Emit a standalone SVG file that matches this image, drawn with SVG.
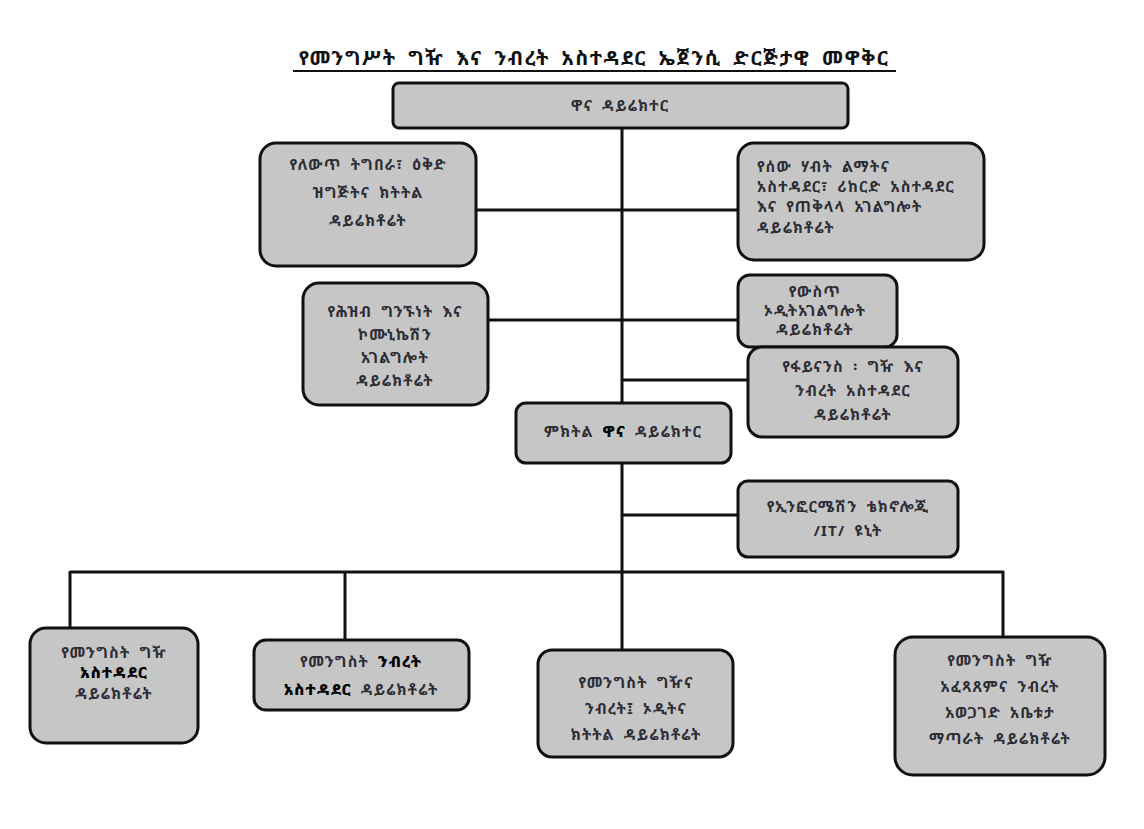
<svg xmlns="http://www.w3.org/2000/svg" width="1144" height="829" viewBox="0 0 1144 829">
<style>
.box{fill:#c6c6c6;stroke:#111;stroke-width:3}
.ln{stroke:#111;stroke-width:3;fill:none}
text{font-family:"Noto Sans Ethiopic","Abyssinica SIL","FreeSerif","DejaVu Sans","Noto Sans",sans-serif;font-size:15px;font-weight:bold;fill:#2c2c34;letter-spacing:1.2px;word-spacing:4px}
.c{text-anchor:middle}
.b{fill:#000;font-weight:900}
.t{font-size:20px;fill:#111;text-anchor:middle;letter-spacing:1.5px;word-spacing:5px}
</style>
<rect width="1144" height="829" fill="#fff"/>
<g id="title">
<text class="t" x="594" y="65">የመንግሥት ግዥ እና ንብረት አስተዳደር ኤጀንሲ ድርጅታዊ መዋቅር</text>
<line x1="293" y1="71" x2="896" y2="71" stroke="#111" stroke-width="2"/>
</g>
<g id="connectors">
<line class="ln" x1="622" y1="128" x2="622" y2="403"/>
<line class="ln" x1="476" y1="210" x2="740" y2="210"/>
<line class="ln" x1="488" y1="320" x2="740" y2="320"/>
<line class="ln" x1="622" y1="380" x2="750" y2="380"/>
<line class="ln" x1="622" y1="463" x2="622" y2="572"/>
<line class="ln" x1="622" y1="515" x2="740" y2="515"/>
<line class="ln" x1="70" y1="572" x2="1004" y2="572"/>
<line class="ln" x1="70" y1="571" x2="70" y2="628"/>
<line class="ln" x1="345" y1="571" x2="345" y2="640"/>
<line class="ln" x1="622" y1="571" x2="622" y2="650"/>
<line class="ln" x1="1003" y1="571" x2="1003" y2="637"/>
</g>
<g id="n-director">
<rect class="box" x="393" y="83" width="455" height="45" rx="6"/>
<text class="c" x="620" y="111">ዋና ዳይሬክተር</text>
</g>
<g id="n-change">
<rect class="box" x="260" y="143" width="216" height="123" rx="16"/>
<text class="c" x="368" y="170">የለውጥ ትግበራ፣ ዕቅድ</text>
<text class="c" x="368" y="198">ዝግጅትና ክትትል</text>
<text class="c" x="368" y="226">ዳይሬክቶሬት</text>
</g>
<g id="n-hr">
<rect class="box" x="738" y="143" width="246" height="117" rx="16"/>
<text x="757" y="172">የሰው ሃብት ልማትና</text>
<text x="757" y="192">አስተዳደር፣ ሪከርድ አስተዳደር</text>
<text x="757" y="212">እና የጠቅላላ አገልግሎት</text>
<text x="757" y="233">ዳይሬክቶሬት</text>
</g>
<g id="n-pr">
<rect class="box" x="303" y="283" width="185" height="122" rx="16"/>
<text class="c" x="395" y="317">የሕዝብ ግንኙነት እና</text>
<text class="c" x="395" y="340">ኮሙኒኬሽን</text>
<text class="c" x="395" y="363">አገልግሎት</text>
<text class="c" x="395" y="386">ዳይሬክቶሬት</text>
</g>
<g id="n-audit">
<rect class="box" x="738" y="275" width="159" height="72" rx="12"/>
<text class="c" x="815" y="297">የውስጥ</text>
<text class="c" x="815" y="316">ኦዲትአገልግሎት</text>
<text class="c" x="815" y="335">ዳይሬክቶሬት</text>
</g>
<g id="n-finance">
<rect class="box" x="748" y="347" width="210" height="90" rx="14"/>
<text class="c" x="853" y="372">የፋይናንስ ፡ ግዥ እና</text>
<text class="c" x="853" y="396">ንብረት አስተዳደር</text>
<text class="c" x="853" y="420">ዳይሬክቶሬት</text>
</g>
<g id="n-deputy">
<rect class="box" x="516" y="403" width="215" height="60" rx="10"/>
<text class="c" x="623" y="437">ምክትል <tspan class="b">ዋና</tspan> ዳይሬክተር</text>
</g>
<g id="n-it">
<rect class="box" x="738" y="481" width="220" height="76" rx="10"/>
<text class="c" x="848" y="512">የኢንፎርሜሽን ቴክኖሎጂ</text>
<text class="c" x="848" y="536">/IT/ ዩኒት</text>
</g>
<g id="n-procurement">
<rect class="box" x="30" y="628" width="168" height="115" rx="16"/>
<text class="c" x="114" y="658">የመንግስት ግዥ</text>
<text class="c b" x="114" y="678">አስተዳደር</text>
<text class="c" x="114" y="699">ዳይሬክቶሬት</text>
</g>
<g id="n-property">
<rect class="box" x="254" y="640" width="215" height="70" rx="12"/>
<text class="c" x="361" y="667">የመንግስት <tspan class="b">ንብረት</tspan></text>
<text class="c" x="361" y="695"><tspan class="b">አስተዳደር</tspan> ዳይሬክቶሬት</text>
</g>
<g id="n-monitor">
<rect class="box" x="538" y="650" width="195" height="107" rx="14"/>
<text class="c" x="636" y="688">የመንግስት ግዥና</text>
<text class="c" x="636" y="714">ንብረት፤ ኦዲትና</text>
<text class="c" x="636" y="740">ክትትል ዳይሬክቶሬት</text>
</g>
<g id="n-complaint">
<rect class="box" x="895" y="637" width="210" height="138" rx="18"/>
<text class="c" x="1000" y="666">የመንግስት ግዥ</text>
<text class="c" x="1000" y="692">አፈጻጸምና ንብረት</text>
<text class="c" x="1000" y="718">አወጋገድ አቤቱታ</text>
<text class="c" x="1000" y="744">ማጣራት ዳይሬክቶሬት</text>
</g>
</svg>
